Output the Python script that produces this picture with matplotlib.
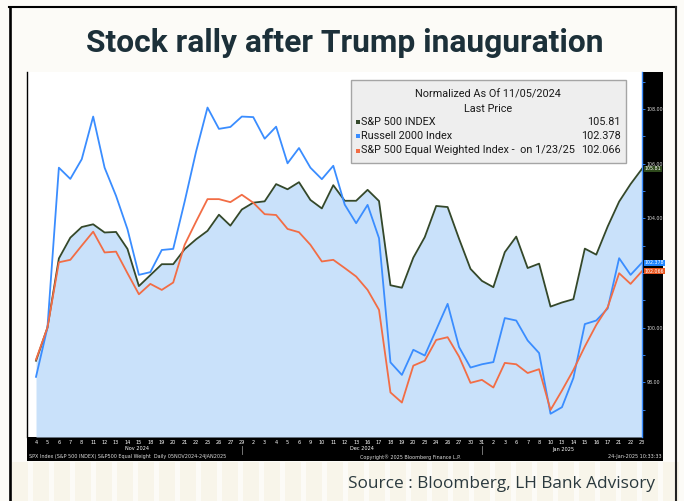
import matplotlib
matplotlib.use("Agg")
import matplotlib.pyplot as plt
from matplotlib.lines import Line2D
from matplotlib.patches import Rectangle
from matplotlib.transforms import blended_transform_factory

W, H = 684, 501

# trading days shown on the x axis
day_labels = (
    ["4", "5", "6", "7", "8", "11", "12", "13", "14", "15", "18", "19", "20",
     "21", "22", "25", "26", "27", "29"]
    + ["2", "3", "4", "5", "6", "9", "10", "11", "12", "13", "16", "17", "18",
       "19", "20", "23", "24", "26", "27", "30", "31"]
    + ["2", "3", "6", "7", "8", "10", "13", "14", "15", "16", "17", "21", "22", "23"]
)
month_labels = ["Nov 2024", "Dec 2024", "Jan 2025"]
month_pos = [8.8, 28.5, 46.1]
month_breaks = [18, 39]

# normalized to 100 on 11/05/2024
spx = [98.79, 100.00, 102.53, 103.29, 103.68, 103.78, 103.48, 103.50, 102.88, 101.52,
       101.92, 102.32, 102.32, 102.87, 103.23, 103.54, 104.13, 103.73, 104.32,
       104.57, 104.62, 105.25, 105.06, 105.32, 104.67, 104.36, 105.21, 104.64, 104.64,
       105.04, 104.63, 101.55, 101.46, 102.56, 103.31, 104.45, 104.41, 103.25, 102.15, 101.71,
       101.48, 102.76, 103.33, 102.18, 102.34, 100.77, 100.92, 101.04, 102.89, 102.67, 103.70,
       104.61, 105.25, 105.81]
rty = [98.20, 100.00, 105.85, 105.44, 106.16, 107.72, 105.85, 104.82, 103.60, 101.93,
       102.03, 102.84, 102.88, 104.61, 106.44, 108.05, 107.27, 107.34, 107.72,
       107.70, 106.91, 107.35, 106.01, 106.57, 105.85, 105.43, 105.92, 104.50, 103.82,
       104.49, 103.27, 98.73, 98.27, 99.19, 98.98, 99.92, 100.87, 99.29, 98.54, 98.66,
       98.74, 100.35, 100.26, 99.53, 99.07, 96.85, 97.09, 98.16, 100.13, 100.26, 100.70,
       102.54, 101.93, 102.378]
spw = [98.83, 100.00, 102.39, 102.48, 103.00, 103.51, 102.75, 102.78, 101.99, 101.22,
       101.60, 101.38, 101.65, 103.03, 103.88, 104.70, 104.70, 104.59, 104.86,
       104.57, 104.15, 104.12, 103.61, 103.49, 103.03, 102.42, 102.48, 102.18, 101.87,
       101.38, 100.65, 97.63, 97.26, 98.61, 98.79, 99.55, 99.65, 98.94, 97.98, 98.09,
       97.81, 98.71, 98.66, 98.34, 98.48, 96.99, 97.70, 98.45, 99.31, 100.10, 100.75,
       101.99, 101.60, 102.066]

series_names = ["S&P 500 INDEX", "Russell 2000 Index", "S&P 500 Equal Weighted Index -  on 1/23/25"]
last_values = ["105.81", "102.378", "102.066"]

GREEN = "#34482a"
BLUE = "#3a8dff"
ORANGE = "#f26d45"
FILL = "#c9e1fa"


def fx(x):
    return x / W


def fy(y):
    return 1 - y / H


fig = plt.figure(figsize=(W / 100, H / 100), dpi=100)
fig.patch.set_facecolor("#fcfbf7")

# faint stripes under the chart
for sx in range(12, 676, 21):
    fig.add_artist(Rectangle((fx(sx), 0), fx(16), fy(462), transform=fig.transFigure,
                             facecolor="#f8f5ea", edgecolor="none", zorder=-3))

# outer frame
fig.add_artist(Line2D([fx(10), fx(10)], [fy(7), 0], color="black", lw=1.9))
fig.add_artist(Line2D([fx(9), fx(676)], [fy(7), fy(7)], color="black", lw=1.5))
fig.add_artist(Line2D([fx(676), fx(676)], [fy(7), 0], color="#222222", lw=1.5))

fig.text(fx(345), fy(43), "Stock rally after Trump inauguration", ha="center", va="center",
         fontsize=22.9, fontweight="bold", family="Roboto", color="#1c3039")

# black Bloomberg panels (bottom date strip and right value strip), kept behind the axes
fig.add_artist(Rectangle((fx(27), fy(461)), fx(663 - 27), (461 - 437) / H,
                         transform=fig.transFigure, facecolor="black", edgecolor="none",
                         zorder=-1))
fig.add_artist(Rectangle((fx(642), fy(437)), fx(663 - 642), (437 - 72) / H,
                         transform=fig.transFigure, facecolor="black", edgecolor="none",
                         zorder=-1))

ax = fig.add_axes([fx(27), fy(437), fx(642 - 27), (437 - 72) / H])
ax.set_facecolor("white")
x = list(range(len(spx)))

ax.fill_between(x, spx, 96, color=FILL, lw=0, zorder=1)
ax.plot(x, spx, color=GREEN, lw=1.3, zorder=3)
ax.plot(x, rty, color=BLUE, lw=1.3, zorder=4)
ax.plot(x, spw, color=ORANGE, lw=1.3, zorder=4)

ax.set_xlim(-9 / 11.43, len(spx) - 1)
ax.set_ylim(96, 109.35)

for side in ("top", "bottom"):
    ax.spines[side].set_visible(False)
ax.spines["left"].set_color("black")
ax.spines["left"].set_linewidth(1.0)
ax.spines["right"].set_color(BLUE)
ax.spines["right"].set_linewidth(1.0)

ax.set_xticks(x)
ax.set_xticklabels(day_labels)
ax.tick_params(axis="x", length=0, pad=2.2, labelsize=3.6, labelcolor="white")

# 102.00 sits under the value tags, so it is left blank
ytick_vals = list(range(98, 109, 2))
ax.yaxis.tick_right()
ax.set_yticks(ytick_vals)
ax.set_yticklabels(["" if v == 102 else f"{v:.2f}" for v in ytick_vals])
ax.set_yticks(range(97, 110), minor=True)
ax.tick_params(axis="y", which="both", direction="out", length=2, width=0.6,
               color=BLUE, labelsize=3.4, labelcolor="#dddddd", pad=1.5)

# last-value tags on the right strip
tag_tr = blended_transform_factory(ax.transAxes, ax.transData)
for val, txt, col in [(spx[-1], last_values[0], "#2e4a1c"),
                      (rty[-1], last_values[1], "#1f86ff"),
                      (spw[-1], last_values[2], "#e9561f")]:
    ax.text(1.004, val, txt, transform=tag_tr, ha="left", va="center", fontsize=3.4,
            color="white", clip_on=False, zorder=10,
            bbox=dict(boxstyle="square,pad=0.12", facecolor=col, edgecolor="none"))

# month labels and separators in the date strip
date_tr = blended_transform_factory(ax.transData, fig.transFigure)
for pos, lab in zip(month_pos, month_labels):
    ax.text(pos, fy(449), lab, transform=date_tr, ha="center", va="center",
            fontsize=3.6, color="white", clip_on=False)
for b in month_breaks:
    fig.add_artist(Line2D([b, b], [fy(446), fy(454)], transform=date_tr,
                          color="#888888", lw=0.6))

fig.text(fx(29), fy(456.7), "SPX Index (S&P 500 INDEX) S&P500 Equal Weight  Daily 05NOV2024-24JAN2025",
         ha="left", va="center", fontsize=3.5, color="#dddddd")
fig.text(fx(410), fy(456.7), "Copyright\u00ae 2025 Bloomberg Finance L.P.",
         ha="center", va="center", fontsize=3.5, color="#dddddd")
fig.text(fx(662), fy(456.7), "24-Jan-2025 10:33:33",
         ha="right", va="center", fontsize=3.5, color="#dddddd")

# legend box
fig.add_artist(Rectangle((fx(351), fy(163)), fx(626 - 351), (163 - 80) / H,
                         transform=fig.transFigure, facecolor="#eeeeee",
                         edgecolor="#a5a5a5", lw=1.0, zorder=20))
leg_font = dict(family="Roboto", fontsize=7.8, color="#1a1a1a", zorder=21)
fig.text(fx(488), fy(95), "Normalized As Of 11/05/2024", ha="center", va="center", **leg_font)
fig.text(fx(488), fy(108.5), "Last Price", ha="center", va="center", **leg_font)
for i, (name, val, col) in enumerate(zip(series_names, last_values, [GREEN, BLUE, ORANGE])):
    yy = 122 + i * 14.2
    fig.add_artist(Rectangle((fx(355.5), fy(yy + 2.2)), fx(4), 4 / H, transform=fig.transFigure,
                             facecolor=col, edgecolor="none", zorder=21))
    fig.text(fx(361), fy(yy), name, ha="left", va="center", **leg_font)
    fig.text(fx(621), fy(yy), val, ha="right", va="center", **leg_font)

fig.text(fx(655), fy(484), "Source : Bloomberg, LH Bank Advisory", ha="right", va="center",
         fontsize=12.4, family="Open Sans", color="#2b3a3f")

fig.savefig("out.png", dpi=100, facecolor=fig.get_facecolor())
